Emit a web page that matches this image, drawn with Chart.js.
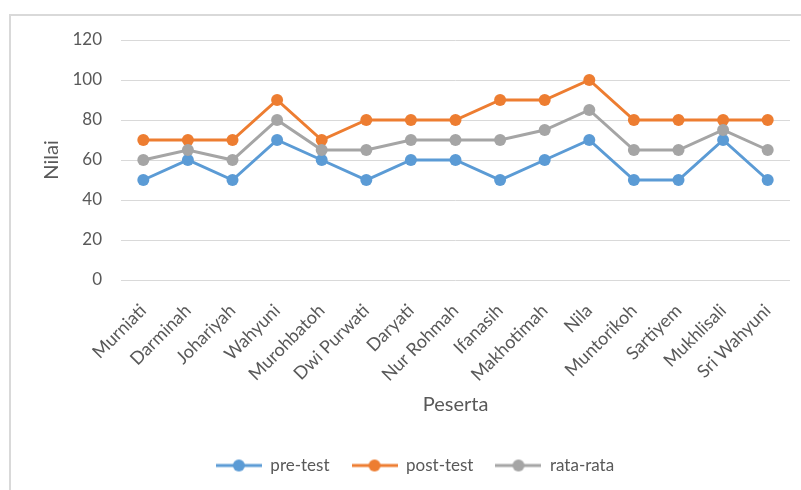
<!DOCTYPE html>
<html>
<head>
<meta charset="utf-8">
<script src="https://cdn.jsdelivr.net/npm/chart.js@4"></script>
<style>
  html, body { margin: 0; padding: 0; background: #fff; overflow: hidden; width: 801px; height: 490px; }
  #frame { position: absolute; left: 9px; top: 14px; width: 900px; height: 600px;
           border-top: 2px solid #d9d9d9; border-left: 2px solid #d9d9d9; }
  #wrap { position: absolute; left: 0; top: 0; width: 830px; height: 490px; }
</style>
</head>
<body>
<div id="frame"></div>
<div id="wrap"><canvas id="c" width="830" height="490"></canvas></div>
<script>
const categories = ["Murniati","Darminah","Johariyah","Wahyuni","Murohbatoh","Dwi Purwati","Daryati","Nur Rohmah","Ifanasih","Makhotimah","Nila","Muntorikoh","Sartiyem","Mukhlisali","Sri Wahyuni"];
const preTest  = [50,60,50,70,60,50,60,60,50,60,70,50,50,70,50];
const postTest = [70,70,70,90,70,80,80,80,90,90,100,80,80,80,80];
const rataRata = [60,65,60,80,65,65,70,70,70,75,85,65,65,75,65];
const yTicks = [0,20,40,60,80,100,120];

const seriesNames = ["pre-test","post-test","rata-rata"];
const seriesColors = ["#5B9BD5","#ED7D31","#A5A5A5"];
const TEXT = "#595959";
const FONT = "Lato, 'Open Sans', sans-serif";

function legendIcon(color) {
  const c = document.createElement('canvas');
  c.width = 46; c.height = 14;
  const g = c.getContext('2d');
  g.strokeStyle = color; g.lineWidth = 3;
  g.beginPath(); g.moveTo(0, 7); g.lineTo(46, 7); g.stroke();
  g.fillStyle = color;
  g.beginPath(); g.arc(23, 7, 6, 0, Math.PI * 2); g.fill();
  return c;
}
const icons = seriesColors.map(legendIcon);

function ds(i, data, order) {
  return {
    label: seriesNames[i], data: data,
    borderColor: seriesColors[i], backgroundColor: seriesColors[i],
    pointBackgroundColor: seriesColors[i], pointBorderWidth: 0,
    pointRadius: 6, pointHoverRadius: 6, borderWidth: 3, tension: 0, order: order
  };
}

new Chart(document.getElementById('c'), {
  type: 'line',
  data: {
    labels: categories,
    datasets: [ds(0, preTest, 3), ds(1, postTest, 2), ds(2, rataRata, 1)]
  },
  options: {
    responsive: false, animation: false,
    layout: { padding: { left: 40, right: 40, top: 40, bottom: 6 } },
    plugins: {
      tooltip: { enabled: false },
      legend: {
        position: 'bottom',
        labels: {
          usePointStyle: true, pointStyleWidth: 46, padding: 22,
          color: TEXT, font: { family: FONT, size: 17 },
          sort: (a, b) => a.datasetIndex - b.datasetIndex,
          generateLabels: (chart) => Chart.defaults.plugins.legend.labels.generateLabels(chart)
            .map(l => Object.assign(l, { pointStyle: icons[l.datasetIndex], lineWidth: 0 }))
        }
      }
    },
    scales: {
      x: {
        offset: true,
        grid: { display: false, drawTicks: false, offset: true },
        border: { display: false },
        ticks: { autoSkip: false, minRotation: 45, maxRotation: 45, padding: 20,
                 color: TEXT, font: { family: FONT, size: 18 } },
        title: { display: true, text: 'Peserta', color: TEXT,
                 font: { family: FONT, size: 20 }, padding: { top: 4, bottom: 18 } },
        afterFit: (s) => { s.height = 155; }
      },
      y: {
        min: 0, max: 120,
        afterBuildTicks: (s) => { s.ticks = yTicks.map(v => ({ value: v })); },
        grid: { color: '#d9d9d9', lineWidth: 1, drawTicks: false },
        border: { display: false },
        ticks: { padding: 19, color: TEXT, font: { family: FONT, size: 17 } },
        title: { display: true, text: 'Nilai', color: TEXT,
                 font: { family: FONT, size: 20 }, padding: { top: 0, bottom: 0 } },
        afterFit: (s) => { s.width = 81; }
      }
    }
  }
});
</script>
</body>
</html>
